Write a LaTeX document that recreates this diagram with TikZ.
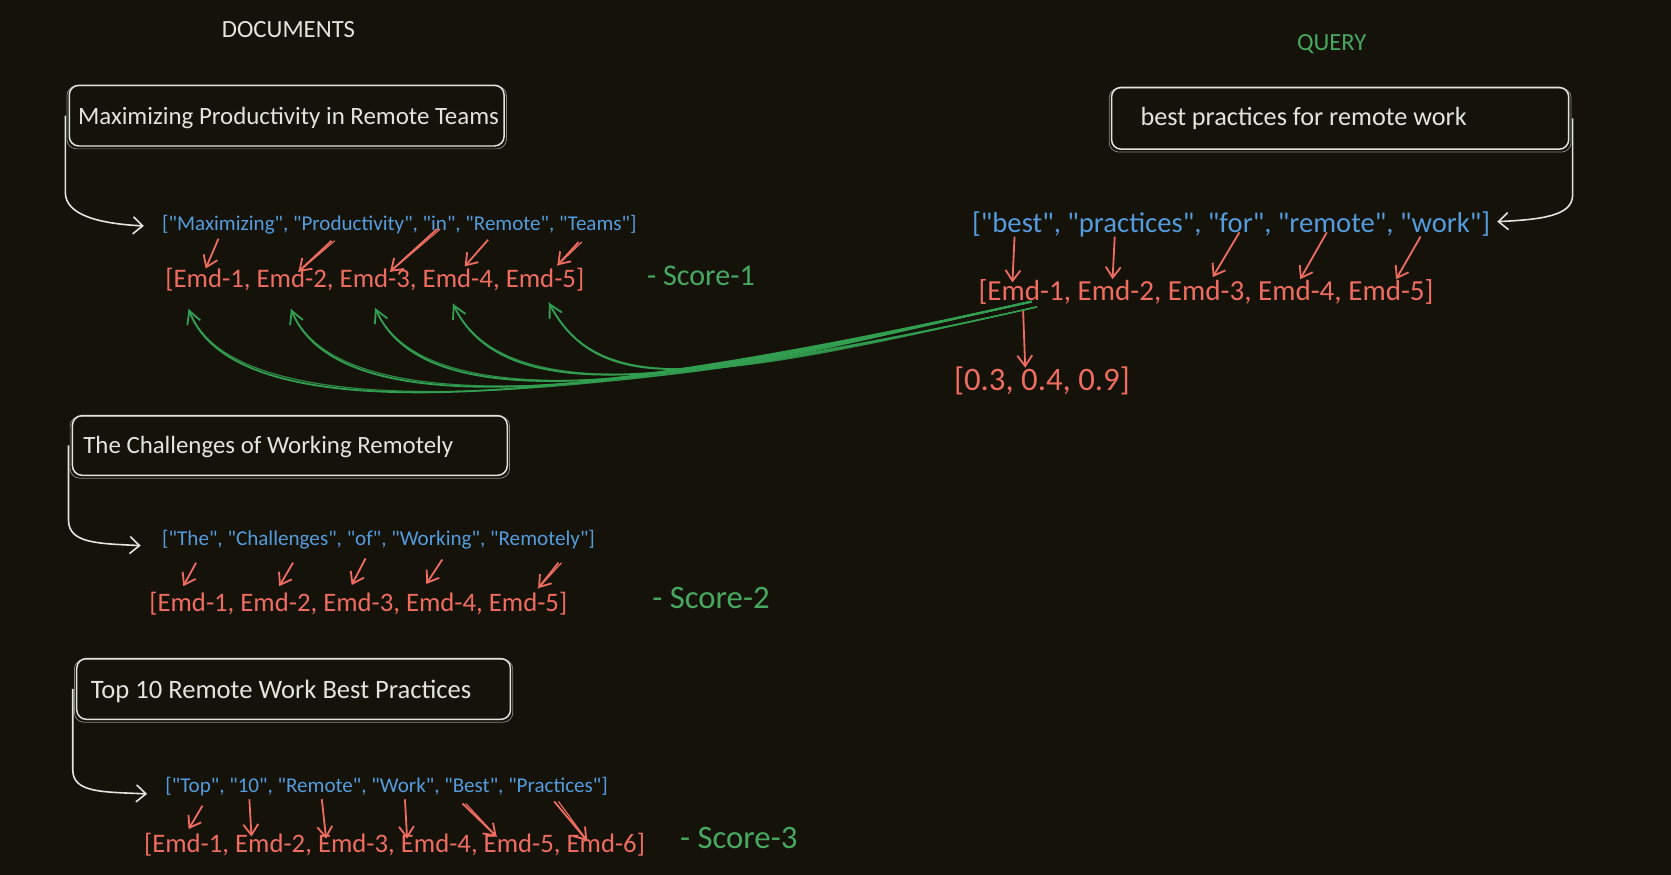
\documentclass[tikz,border=0pt]{standalone}
\usepackage{fontspec}
\setmainfont{Carlito}[Ligatures=TeXOff]
\usepackage{graphicx}
\usetikzlibrary{arrows.meta}
\definecolor{bg}{RGB}{20,18,9}
\definecolor{wht}{RGB}{228,228,222}
\definecolor{blu}{RGB}{84,156,222}
\definecolor{red1}{RGB}{238,108,96}
\definecolor{grn}{RGB}{50,158,80}
\definecolor{grnt}{RGB}{72,168,96}
\newcommand\fitw[2]{\resizebox{#1pt}{!}{#2}}
\tikzset{
  box/.style={draw=wht, line width=1.4pt, rounded corners=9pt, inner sep=0pt},
  boxb/.style={draw=wht, line width=0.7pt, rounded corners=9pt, opacity=0.55},
  lbl/.style={inner sep=0pt, anchor=base west},
  warrow/.style={draw=wht, line width=1.5pt, -{Straight Barb[length=9pt,width=16pt]}},
  rarrow/.style={draw=red1, line width=1.7pt, -{Straight Barb[length=10pt,width=14pt]}},
  garrow/.style={draw=grn, line width=1.7pt, -{Straight Barb[length=12pt,width=13pt]}},
  gline/.style={draw=grn, line width=1.1pt, opacity=0.85},
}
\begin{document}
\begin{tikzpicture}[x=1pt,y=-1pt]
\fill[bg] (0,0) rectangle (1568,821);
\useasboundingbox (0,0) rectangle (1568,821);

% titles
\node[lbl,text=wht] (doc) at (208,35) {\fitw{125}{DOCUMENTS}};
\node[lbl,text=grnt] (qry) at (1217,47) {\fitw{65}{QUERY}};

% boxes
\node[box,minimum width=408pt,minimum height=57pt] (box1) at (269,108.5) {};
\node[box,minimum width=408pt,minimum height=56pt] (box2) at (272,418) {};
\node[box,minimum width=407pt,minimum height=57pt] (box3) at (275.5,646.5) {};
\node[box,minimum width=429pt,minimum height=58pt] (qbox) at (1257.5,111) {};
\foreach \b in {box1,box2,box3,qbox}{
  \draw[boxb] ([shift={(-1.5pt,-1.5pt)}]\b.north west) rectangle ([shift={(1.5pt,-2pt)}]\b.south east);
}

% box texts
\node[lbl,text=wht] (t1) at (73,117) {\fitw{395}{Maximizing Productivity in Remote Teams}};
\node[lbl,text=wht] (t2) at (78,426) {\fitw{347}{The Challenges of Working Remotely}};
\node[lbl,text=wht] (t3) at (85,655) {\fitw{357}{Top 10 Remote Work Best Practices}};
\node[lbl,text=wht] (tq) at (1070,118) {\fitw{306}{best practices for remote work}};

% token lists
\node[lbl,text=blu] (tok1) at (152,216) {\fitw{445}{["Maximizing", "Productivity", "in", "Remote", "Teams"]}};
\node[lbl,text=blu] (tok2) at (152,512) {\fitw{406}{["The", "Challenges", "of", "Working", "Remotely"]}};
\node[lbl,text=blu] (tok3) at (155,744) {\fitw{415}{["Top", "10", "Remote", "Work", "Best", "Practices"]}};
\node[lbl,text=blu] (qtok) at (912,218) {\fitw{486}{["best", "practices", "for", "remote", "work"]}};

% embedding lists
\node[lbl,text=red1] (emd1) at (155,270) {\fitw{393}{[Emd-1, Emd-2, Emd-3, Emd-4, Emd-5]}};
\node[lbl,text=red1] (emd2) at (140,574) {\fitw{392}{[Emd-1, Emd-2, Emd-3, Emd-4, Emd-5]}};
\node[lbl,text=red1] (emd3) at (135,800) {\fitw{470}{[Emd-1, Emd-2, Emd-3, Emd-4, Emd-5, Emd-6]}};
\node[lbl,text=red1] (qemd) at (918,282) {\fitw{427}{[Emd-1, Emd-2, Emd-3, Emd-4, Emd-5]}};
\node[lbl,text=red1] (vec) at (895,366) {\fitw{165}{[0.3, 0.4, 0.9]}};

% scores
\node[lbl,text=grnt] (s1) at (607,268) {\fitw{101}{- Score-1}};
\node[lbl,text=grnt] (s2) at (612,571) {\fitw{110}{- Score-2}};
\node[lbl,text=grnt] (s3) at (638,796) {\fitw{110}{- Score-3}};

% white connectors from boxes to token lists
\coordinate (tip1) at (135,212);
\coordinate (tip2) at (132,512);
\coordinate (tip3) at (138,745);
\coordinate (tipq) at (1405,208);
\draw[warrow] ([xshift=-3pt]box1.west) -- ++(0,72) .. controls +(0,22) and +(-40,-2) .. (tip1);
\draw[warrow] ([xshift=-3pt]box2.west) -- ++(0,70) .. controls +(0,22) and +(-40,-2) .. (tip2);
\draw[warrow] ([xshift=-3pt]box3.west) -- ++(0,76) .. controls +(0,22) and +(-40,-2) .. (tip3);
\draw[warrow] ([xshift=3pt]qbox.east) -- ++(0,72) .. controls +(0,20) and +(40,-2) .. (tipq);

% red token -> embedding arrows
\foreach \n/\sx/\sy/\ex/\ey in {
  a1/205/224/193/252, a2/311/226/280/255, a3/410/215/366/255, a4/458/225/436/250, a5/543/227/523/249,
  b1/184/528/172/550, b2/275/528/262/550, b3/343/524/330/549, b4/415/525/400/548, b5/524/528/505/552,
  c1/190/756/177/778, c2/234/750/236/785, c3/302/750/306/787, c4/380/750/382/787, c5/434/754/466/785, c6/520/752/551/789,
  q1/952/222/950/265, q2/1046/222/1044/262, q3/1163/218/1138/260, q4/1245/218/1220/262, q5/1333/222/1310/262,
  qd/960/290/962/345}{
  \coordinate (\n-s) at (\sx,\sy);
  \coordinate (\n-e) at (\ex,\ey);
  \draw[rarrow] (\n-s) -- (\n-e);
}
% sketchy second strokes on some arrows
\foreach \n/\dx in {a2/3, a3/3, a5/3, b5/3, c5/3, c6/4}{
  \draw[draw=red1, line width=1.1pt] ([xshift=\dx pt]\n-s) -- (\n-e);
}

% green similarity curves
\coordinate (qs) at (968,283);
\coordinate (qs2) at (973,288);
\foreach \i/\tx/\ty in {1/177/290, 2/273/290, 3/352/289, 4/425/285, 5/515/284}{
  \coordinate (g\i) at (\tx,\ty);
  \pgfmathsetmacro\dy{448-12*\i}
  \draw[garrow] (qs) .. controls (700,342) and (\tx+55,\dy) .. (g\i);
  \draw[gline] (qs2) .. controls (690,352) and (\tx+48,\dy-8) .. (g\i);
}
\end{tikzpicture}
\end{document}
